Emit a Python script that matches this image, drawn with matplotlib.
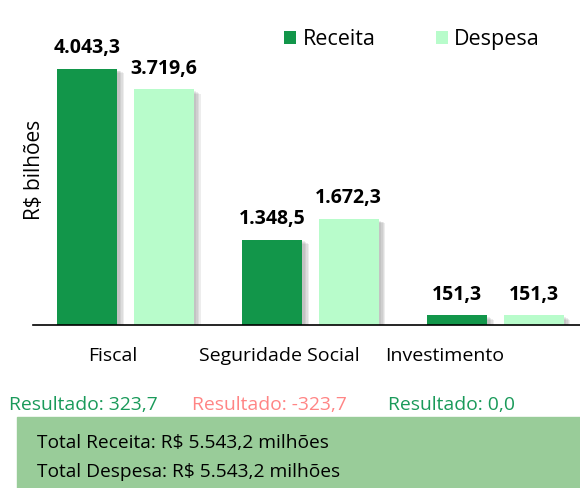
import matplotlib.pyplot as plt
import matplotlib.patheffects as pe
from matplotlib.patches import Rectangle
import numpy as np

# Data
categories = ['Fiscal', 'Seguridade Social', 'Investimento']
receita = [4043.3, 1348.5, 151.3]
despesa = [3719.6, 1672.3, 151.3]
receita_lbl = ['4.043,3', '1.348,5', '151,3']
despesa_lbl = ['3.719,6', '1.672,3', '151,3']
resultado = ['Resultado: 323,7', 'Resultado: -323,7', 'Resultado: 0,0']
totais = ['Total Receita: R$ 5.543,2 milhões', 'Total Despesa: R$ 5.543,2 milhões']

plt.rcParams['font.family'] = ['Open Sans', 'DejaVu Sans']

c_rec = '#12964a'
c_desp = '#b8fccb'
c_pos = '#1a9a5a'
c_neg = '#ff8585'

W, H = 580, 488
fig = plt.figure(figsize=(W / 100, H / 100), dpi=100)
ax = fig.add_axes([33 / W, 1 - 325 / H, 1 - 33 / W, 305 / H])

x = np.arange(len(categories))
bw = 0.324
off = 0.207
b1 = ax.bar(x - off, receita, bw, color=c_rec, label='Receita', zorder=2)
b2 = ax.bar(x + off, despesa, bw, color=c_desp, label='Despesa', zorder=2)

for xi, v, t in zip(x - off, receita, receita_lbl):
    ax.text(xi, v + 250, t, ha='center', va='baseline', fontsize=14, fontweight='bold')
for xi, v, t in zip(x + off, despesa, despesa_lbl):
    ax.text(xi, v + 250, t, ha='center', va='baseline', fontsize=14, fontweight='bold')

ax.set_xlim(-0.499, 2.458)
ax.set_ylim(0, 4817)
for s in ['top', 'right', 'left']:
    ax.spines[s].set_visible(False)
ax.spines['bottom'].set_linewidth(1.2)
ax.set_xticks([])
ax.set_yticks([])
fig.text(35 / W, 1 - 170 / H, 'R$ bilhões', rotation=90, ha='center', va='center', fontsize=15)

# category labels
for px, c in zip([113, 279, 445], categories):
    fig.text(px / W, 1 - 361 / H, c, ha='center', va='baseline', fontsize=14)

# resultados
for px, t, col in zip([83, 269, 451], resultado, [c_pos, c_neg, c_pos]):
    fig.text(px / W, 1 - 410 / H, t, ha='center', va='baseline', fontsize=13.9, color=col)

# caixa de totais
fig.patches.append(Rectangle((17 / W, 0), 1 - 17 / W, (488 - 417) / H,
                             transform=fig.transFigure, color='#99cc99', zorder=0))
for py, t in zip([448, 477], totais):
    fig.text(37 / W, 1 - py / H, t, ha='left', va='baseline', fontsize=13.8)

leg = ax.legend(loc='upper left', bbox_to_anchor=(284 / W, 1 - 29 / H), bbox_transform=fig.transFigure,
                ncol=2, frameon=False, fontsize=15.5, handlelength=0.56, handleheight=0.6,
                handletextpad=0.3, columnspacing=2.8, borderpad=0, borderaxespad=0)

# soft shadow on bars (after legend so handles stay plain)
shadow = [pe.SimplePatchShadow(offset=(k, -k * 0.6), shadow_rgbFace='#777777', alpha=0.13)
          for k in (5, 4, 3, 2)] + [pe.Normal()]
for b in list(b1) + list(b2):
    b.set_path_effects(shadow)

plt.savefig('out.png', dpi=100)
